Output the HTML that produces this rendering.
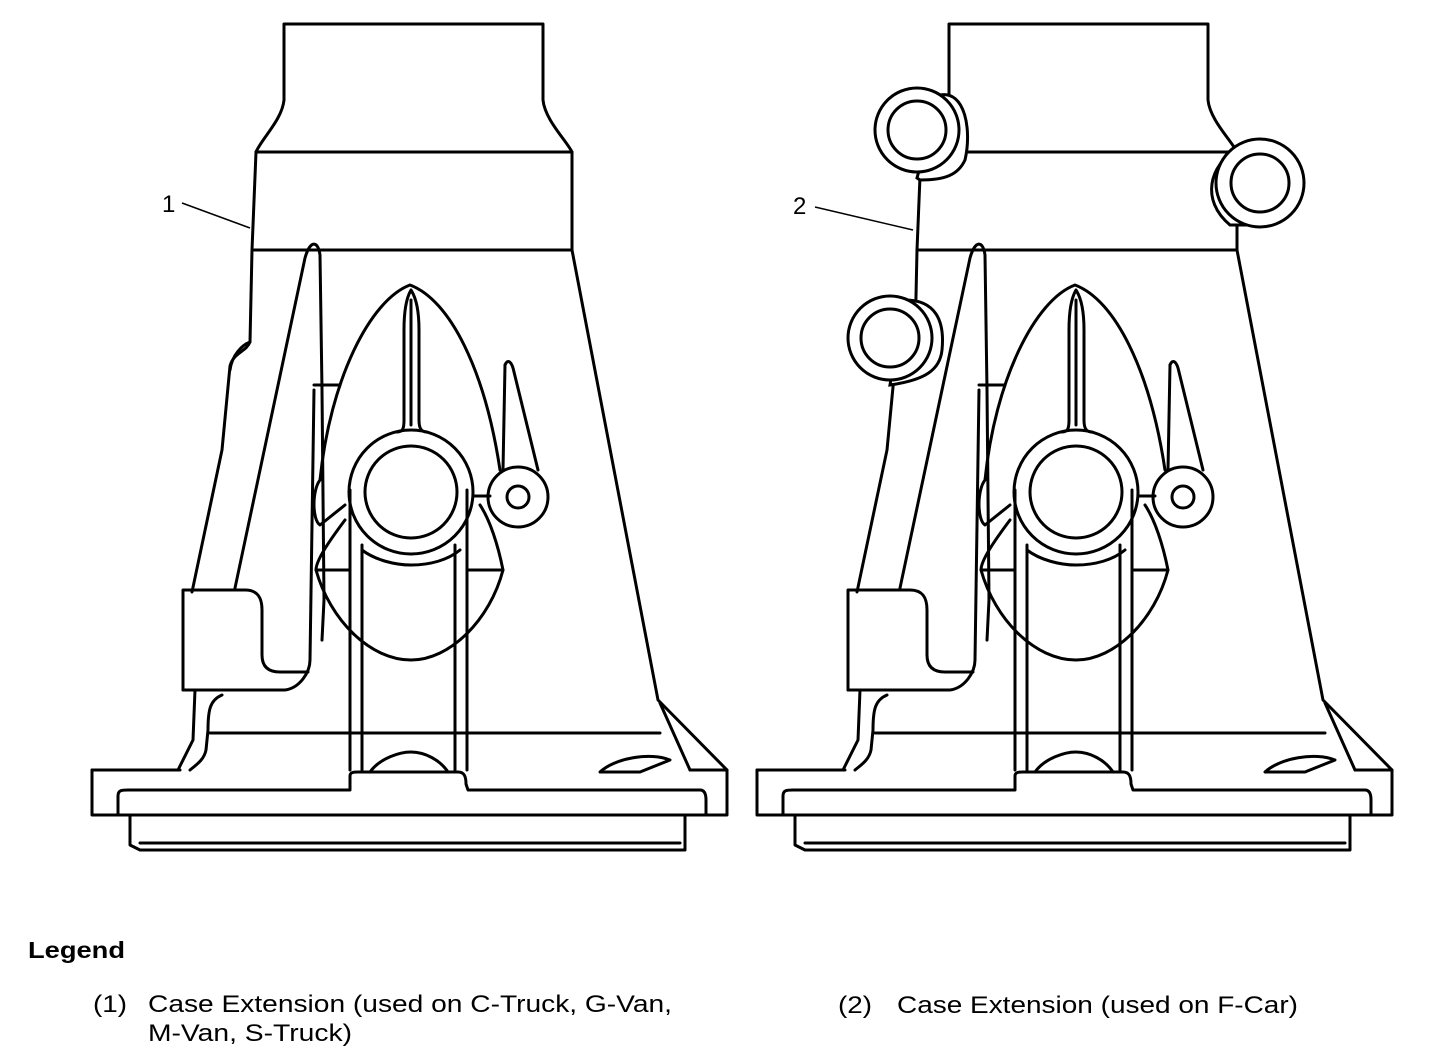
<!DOCTYPE html>
<html><head><meta charset="utf-8"><style>
html,body{margin:0;padding:0;background:#fff;}
svg{display:block}
</style></head><body>
<svg width="1456" height="1050" viewBox="0 0 1456 1050" xmlns="http://www.w3.org/2000/svg">
<defs>
<g id="body" fill="none" stroke="#000" stroke-width="3" stroke-linejoin="round" stroke-linecap="round">
  <!-- tube -->
  <path d="M284,100 L284,24 L543,24 L543,100 C545,120 566,140 572,152"/>
  <path d="M284,100 C282,120 262,138 256,152"/>
  <line x1="256" y1="152" x2="572" y2="152"/>
  <line x1="254" y1="250" x2="572" y2="250"/>
  <!-- right side -->
  <path d="M572,152 L572,250 L658,700 L727,770"/>
  <path d="M660,703 L690,770"/>
  <!-- left side -->
  <path d="M256,152 L252,250 L250,342 C246,352 234,352 230,366 L222,450 L192,592"/>
  <path d="M250,342 C242,345 232,355 230,370"/>
  <!-- left box -->
  <path d="M183,690 L183,590 L245,590 C258,590 262,598 262,610 L262,655 C262,668 270,672 280,672 L308,672"/>
  <path d="M183,690 L285,690 C300,688 310,672 310,660 L314,390"/>
  <!-- left fin -->
  <path d="M235,588 L305,258 C310,240 318,240 320,255 L322,390 L324,600 L322,640"/>
  <path d="M314,385 L340,385"/>
  <!-- strut below box -->
  <path d="M195,690 L193,740 L178,770"/>
  <path d="M222,695 C210,700 208,710 208,730 L206,750 C204,760 196,765 190,770"/>
  <line x1="210" y1="733" x2="660" y2="733"/>
  <!-- teardrop -->
  <path d="M320,480 C330,380 370,300 410,285 C450,300 485,370 500,470"/>
  <path d="M345,520 C330,540 316,560 316,570 C330,620 370,660 411,660 C450,660 490,620 503,570 C498,545 490,520 480,505"/>
  <line x1="316" y1="570" x2="350" y2="570"/>
  <line x1="467" y1="570" x2="503" y2="570"/>
  <path d="M320,480 C312,490 312,520 320,525 L345,505"/>
  <!-- spike -->
  <path d="M397,432 C403,432 404,428 404,420 L404,330 C404,300 410,292 411,290 C412,292 419,300 419,330 L419,420 C419,428 421,432 427,432"/>
  <path d="M411,300 L411,425"/>
  <!-- big circle -->
  <circle cx="411" cy="492" r="62"/>
  <circle cx="411" cy="492" r="46"/>
  <path d="M362,550 C375,560 395,565 411,565 C430,565 448,560 460,550"/>
  <!-- bars -->
  <path d="M350,490 L350,770"/>
  <path d="M362,545 L362,770"/>
  <path d="M455,545 L455,770"/>
  <path d="M467,490 L467,770"/>
  <!-- small circle -->
  <circle cx="518" cy="497" r="30"/>
  <circle cx="518" cy="497" r="11"/>
  <path d="M473,496 L490,496"/>
  <path d="M505,365 C508,358 512,362 514,372 L538,470"/>
  <path d="M505,365 L503,470"/>
  <!-- flange -->
  <path d="M92,770 L92,815 L727,815 L727,770 L690,770"/>
  <path d="M92,770 L180,770"/>
  <path d="M118,815 L118,796 C118,790 122,790 128,790 L350,790 L350,776 C350,772 354,772 358,772 L458,772 C464,772 466,776 466,784 L468,790 L700,790 C704,790 706,793 706,800 L706,815"/>
  <path d="M370,772 C380,758 400,752 411,752 C425,752 440,760 448,772"/>
  <path d="M600,772 C615,758 650,752 670,760 L640,772 Z" />
  <path d="M130,815 L130,845 L140,850 L685,850 L685,815"/>
  <path d="M140,843 L680,843"/>
</g>
</defs>

<use href="#body"/>
<use href="#body" transform="translate(665,0)"/>

<!-- bosses on right figure -->
<g fill="#fff" stroke="#000" stroke-width="3">
  <path d="M940,95 C965,90 972,130 965,160 C958,175 945,180 920,180 L917,178 Z"/>
  <circle cx="917" cy="130" r="42"/>
  <circle cx="917" cy="130" r="29" fill="none"/>
  <path d="M1236,150 C1210,165 1200,200 1230,225 L1245,225 Z"/>
  <circle cx="1260" cy="183" r="44"/>
  <circle cx="1260" cy="183" r="29" fill="none"/>
  <path d="M905,300 C935,300 945,320 942,350 C940,370 925,380 890,385 Z"/>
  <circle cx="890" cy="338" r="42"/>
  <circle cx="890" cy="338" r="29" fill="none"/>
</g>

<!-- labels -->
<g font-family="'Liberation Sans', Arial, sans-serif" font-size="24" fill="#000">
  <text x="162" y="212">1</text>
  <text x="793" y="214">2</text>
</g>
<g stroke="#000" stroke-width="1.5">
  <line x1="182" y1="203" x2="250" y2="228"/>
  <line x1="815" y1="207" x2="913" y2="230"/>
</g>

<!-- legend -->
<g font-family="'Liberation Sans', Arial, sans-serif" fill="#000">
  <text x="28" y="958" font-size="23" font-weight="bold" textLength="97" lengthAdjust="spacingAndGlyphs">Legend</text>
  <text x="93" y="1012" font-size="24" textLength="34" lengthAdjust="spacingAndGlyphs">(1)</text>
  <text x="148" y="1012" font-size="24" textLength="524" lengthAdjust="spacingAndGlyphs">Case Extension (used on C-Truck, G-Van,</text>
  <text x="148" y="1041" font-size="24" textLength="204" lengthAdjust="spacingAndGlyphs">M-Van, S-Truck)</text>
  <text x="838" y="1013" font-size="24" textLength="34" lengthAdjust="spacingAndGlyphs">(2)</text>
  <text x="897" y="1013" font-size="24" textLength="401" lengthAdjust="spacingAndGlyphs">Case Extension (used on F-Car)</text>
</g>
</svg>
</body></html>
